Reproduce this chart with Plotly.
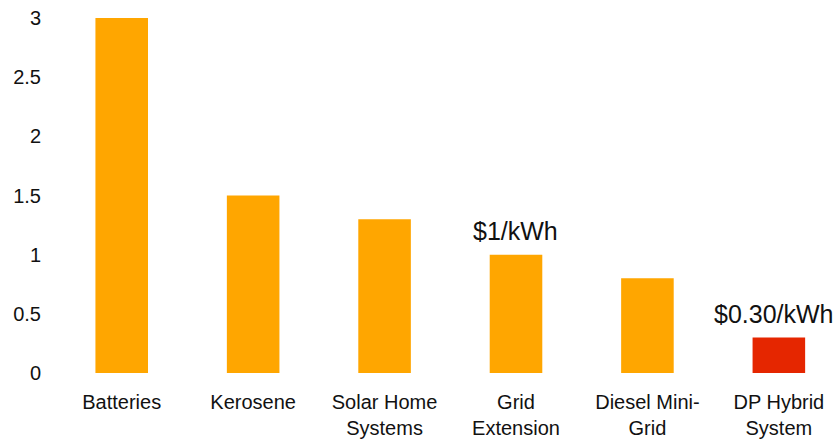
import plotly.graph_objects as go

categories = ["Batteries", "Kerosene", "Solar Home<br>Systems", "Grid<br>Extension",
              "Diesel Mini-<br>Grid", "DP Hybrid<br>System"]
values = [3.0, 1.5, 1.3, 1.0, 0.8, 0.3]
bar_colors = ["#FFA600", "#FFA600", "#FFA600", "#FFA600", "#FFA600", "#E52600"]
price_labels = {3: "$1/kWh", 5: "$0.30/kWh"}
y_ticks = [0, 0.5, 1, 1.5, 2, 2.5, 3]
y_tick_text = ["0", "0.5", "1", "1.5", "2", "2.5", "3"]

font_family = "Liberation Sans, Arial, sans-serif"

fig = go.Figure(go.Bar(
    x=categories, y=values, marker=dict(color=bar_colors, line=dict(width=0)),
    width=0.4, hoverinfo="skip",
))

for i, txt in price_labels.items():
    fig.add_annotation(
        x=categories[i], y=values[i], text=txt, showarrow=False,
        yanchor="bottom", yshift=8, xshift=(-5 if i == 5 else -1),
        font=dict(size=25, color="#111111", family=font_family),
    )

fig.update_layout(
    width=838, height=442,
    margin=dict(l=56, r=0, t=18, b=69),
    plot_bgcolor="white", paper_bgcolor="white",
    showlegend=False,
    font=dict(family=font_family, size=20, color="#111111"),
    xaxis=dict(range=[-0.5, 5.45], showgrid=False, showline=False, zeroline=False,
               ticks="", tickfont=dict(size=20), ticklabelstandoff=15),
    yaxis=dict(range=[0, 3], tickvals=y_ticks, ticktext=y_tick_text, showgrid=False,
               showline=False, zeroline=False, ticks="", tickfont=dict(size=20),
               ticklabelstandoff=14),
)

fig.write_html("out.html")
